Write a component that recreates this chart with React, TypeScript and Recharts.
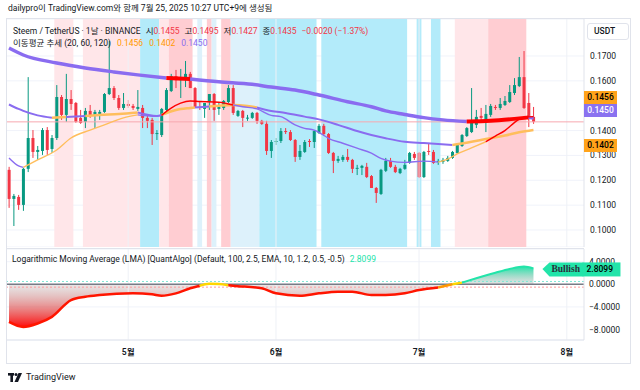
import React from 'react';
import {
  ComposedChart, Bar, Line, Area, XAxis, YAxis, CartesianGrid,
  ReferenceArea, ReferenceLine, ReferenceDot,
} from 'recharts';

const FONT = 'Roboto, "Noto Sans CJK KR", "Noto Sans", sans-serif';
const INK = '#131722';
const UP = '#089981';
const DOWN = '#f23645';
const ORANGE = '#ff9800';
const PURPLE = '#8a6cf0';
const BULL = '#22e4a9';

// STEEM/USDT daily candles, index 0 = Apr 6 2025 ... index 110 = Jul 25 2025
const open = [
  0.1242, 0.1125, 0.1133, 0.1101, 0.1246, 0.1370, 0.1314, 0.1318, 0.1402, 0.1326,
  0.1370, 0.1535, 0.1463, 0.1527, 0.1511, 0.1451, 0.1435, 0.1479, 0.1459, 0.1467,
  0.1475, 0.1547, 0.1571, 0.1531, 0.1491, 0.1507, 0.1499, 0.1487, 0.1491, 0.1451,
  0.1443, 0.1386, 0.1382, 0.1483, 0.1559, 0.1619, 0.1603, 0.1607, 0.1628, 0.1571,
  0.1495, 0.1487, 0.1515, 0.1547, 0.1487, 0.1491, 0.1515, 0.1571, 0.1459, 0.1479,
  0.1451, 0.1451, 0.1471, 0.1439, 0.1427, 0.1318, 0.1354, 0.1358, 0.1398, 0.1394,
  0.1362, 0.1294, 0.1314, 0.1358, 0.1354, 0.1390, 0.1419, 0.1386, 0.1310, 0.1278,
  0.1282, 0.1294, 0.1282, 0.1246, 0.1250, 0.1254, 0.1217, 0.1169, 0.1145, 0.1238,
  0.1278, 0.1254, 0.1229, 0.1246, 0.1270, 0.1306, 0.1310, 0.1213, 0.1318, 0.1314,
  0.1274, 0.1274, 0.1278, 0.1290, 0.1310, 0.1338, 0.1378, 0.1394, 0.1423, 0.1459,
  0.1435, 0.1463, 0.1495, 0.1491, 0.1503, 0.1515, 0.1551, 0.1579, 0.1615, 0.1511,
  0.1455,
];
const high = [
  0.1254, 0.1145, 0.1141, 0.1250, 0.1615, 0.1402, 0.1338, 0.1410, 0.1414, 0.1382,
  0.1583, 0.1543, 0.1628, 0.1563, 0.1515, 0.1483, 0.1491, 0.1503, 0.1483, 0.1483,
  0.1551, 0.1760, 0.1579, 0.1543, 0.1551, 0.1523, 0.1507, 0.1563, 0.1503, 0.1463,
  0.1451, 0.1402, 0.1491, 0.1571, 0.1628, 0.1644, 0.1648, 0.1680, 0.1636, 0.1575,
  0.1515, 0.1511, 0.1547, 0.1551, 0.1511, 0.1523, 0.1583, 0.1583, 0.1483, 0.1483,
  0.1463, 0.1475, 0.1475, 0.1443, 0.1439, 0.1362, 0.1370, 0.1410, 0.1410, 0.1402,
  0.1366, 0.1342, 0.1362, 0.1366, 0.1402, 0.1427, 0.1427, 0.1390, 0.1314, 0.1298,
  0.1302, 0.1326, 0.1286, 0.1262, 0.1262, 0.1270, 0.1221, 0.1173, 0.1246, 0.1290,
  0.1290, 0.1262, 0.1250, 0.1282, 0.1314, 0.1314, 0.1314, 0.1318, 0.1350, 0.1322,
  0.1286, 0.1290, 0.1298, 0.1318, 0.1346, 0.1386, 0.1414, 0.1571, 0.1483, 0.1491,
  0.1503, 0.1507, 0.1503, 0.1531, 0.1539, 0.1583, 0.1611, 0.1696, 0.1720, 0.1551,
  0.1495,
];
const low = [
  0.1089, 0.1016, 0.1081, 0.1077, 0.1233, 0.1290, 0.1282, 0.1302, 0.1302, 0.1310,
  0.1362, 0.1443, 0.1435, 0.1483, 0.1431, 0.1427, 0.1410, 0.1451, 0.1410, 0.1443,
  0.1471, 0.1543, 0.1523, 0.1483, 0.1483, 0.1491, 0.1483, 0.1479, 0.1410, 0.1410,
  0.1342, 0.1362, 0.1374, 0.1479, 0.1555, 0.1571, 0.1531, 0.1575, 0.1571, 0.1491,
  0.1483, 0.1451, 0.1483, 0.1439, 0.1463, 0.1483, 0.1511, 0.1463, 0.1455, 0.1414,
  0.1439, 0.1447, 0.1427, 0.1423, 0.1302, 0.1290, 0.1342, 0.1350, 0.1386, 0.1358,
  0.1274, 0.1282, 0.1310, 0.1334, 0.1330, 0.1386, 0.1378, 0.1306, 0.1229, 0.1270,
  0.1274, 0.1274, 0.1229, 0.1221, 0.1221, 0.1209, 0.1169, 0.1109, 0.1141, 0.1233,
  0.1250, 0.1229, 0.1225, 0.1242, 0.1266, 0.1282, 0.1209, 0.1209, 0.1302, 0.1266,
  0.1262, 0.1266, 0.1274, 0.1286, 0.1306, 0.1334, 0.1374, 0.1390, 0.1410, 0.1431,
  0.1394, 0.1455, 0.1483, 0.1483, 0.1499, 0.1511, 0.1543, 0.1575, 0.1487, 0.1414,
  0.1427,
];
const close = [
  0.1125, 0.1137, 0.1101, 0.1246, 0.1370, 0.1314, 0.1322, 0.1402, 0.1322, 0.1370,
  0.1535, 0.1463, 0.1527, 0.1507, 0.1435, 0.1431, 0.1479, 0.1459, 0.1475, 0.1475,
  0.1547, 0.1571, 0.1531, 0.1491, 0.1507, 0.1499, 0.1491, 0.1495, 0.1451, 0.1439,
  0.1386, 0.1390, 0.1487, 0.1563, 0.1619, 0.1603, 0.1615, 0.1628, 0.1571, 0.1495,
  0.1491, 0.1511, 0.1547, 0.1483, 0.1495, 0.1519, 0.1571, 0.1471, 0.1479, 0.1451,
  0.1452, 0.1471, 0.1439, 0.1427, 0.1318, 0.1354, 0.1358, 0.1398, 0.1394, 0.1362,
  0.1294, 0.1318, 0.1354, 0.1354, 0.1398, 0.1419, 0.1386, 0.1310, 0.1278, 0.1286,
  0.1294, 0.1282, 0.1246, 0.1250, 0.1258, 0.1213, 0.1169, 0.1149, 0.1242, 0.1278,
  0.1254, 0.1233, 0.1246, 0.1262, 0.1310, 0.1290, 0.1213, 0.1314, 0.1314, 0.1270,
  0.1278, 0.1282, 0.1290, 0.1314, 0.1342, 0.1382, 0.1410, 0.1435, 0.1455, 0.1451,
  0.1467, 0.1499, 0.1491, 0.1507, 0.1519, 0.1555, 0.1583, 0.1615, 0.1491, 0.1455,
  0.1435,
];

// moving averages (20, 60, 120), read at sampled candle indices
const ma20Idx = [0, 2, 3, 6, 10, 13, 17, 20, 24, 27, 31, 32, 34, 36, 38, 40, 44, 47, 49, 52, 55, 57, 60, 62, 64, 65, 67, 70, 73, 76, 78, 80, 83, 87, 90, 92, 94, 97, 100, 102, 104, 106, 107, 108, 110];
const ma20Val = [0.1290, 0.1258, 0.1252, 0.1282, 0.1322, 0.1370, 0.1402, 0.1423, 0.1451, 0.1463, 0.1457, 0.1461, 0.1490, 0.1510, 0.1519, 0.1517, 0.1514, 0.1503, 0.1496, 0.1487, 0.1461, 0.1456, 0.1423, 0.1409, 0.1402, 0.1393, 0.1369, 0.1349, 0.1329, 0.1309, 0.1288, 0.1277, 0.1272, 0.1277, 0.1273, 0.1285, 0.1306, 0.1330, 0.1355, 0.1378, 0.1400, 0.1432, 0.1446, 0.1453, 0.1456];
const ma60Idx = [0, 2, 3, 6, 9, 12, 16, 19, 23, 27, 31, 32, 35, 38, 39, 42, 44, 47, 50, 52, 55, 58, 62, 65, 69, 73, 76, 79, 83, 87, 93, 97, 100, 104, 107, 110];
const ma60Val = [0.1505, 0.1487, 0.1479, 0.1461, 0.1452, 0.1455, 0.1459, 0.1463, 0.1467, 0.1473, 0.1459, 0.1463, 0.1483, 0.1491, 0.1493, 0.1497, 0.1500, 0.1503, 0.1499, 0.1493, 0.1479, 0.1471, 0.1456, 0.1445, 0.1423, 0.1398, 0.1382, 0.1369, 0.1355, 0.1350, 0.1342, 0.1355, 0.1366, 0.1380, 0.1393, 0.1402];
const ma120Idx = [0, 3, 10, 16, 22, 27, 33, 38, 44, 51, 55, 60, 65, 71, 76, 79, 83, 87, 91, 96, 101, 106, 109, 110];
const ma120Val = [0.1732, 0.1704, 0.1672, 0.1652, 0.1636, 0.1624, 0.1611, 0.1607, 0.1596, 0.1586, 0.1575, 0.1563, 0.1543, 0.1516, 0.1496, 0.1479, 0.1465, 0.1452, 0.1443, 0.1436, 0.1439, 0.1447, 0.1453, 0.1450];

// trend-state runs of each average (candle index ranges)
const ma20RunFrom = [0, 3, 27, 32, 47, 90, 100];
const ma20RunTo = [3, 27, 32, 47, 90, 100, 110];
const ma20RunState = ['cool', 'warm', 'cool', 'hot', 'cool', 'warm', 'hot'];
const ma60RunFrom = [0, 9, 12, 16, 27, 32, 39, 42, 52, 93];
const ma60RunTo = [9, 12, 16, 27, 32, 39, 42, 52, 93, 110];
const ma60RunState = ['cool', 'warm', 'cool', 'warm', 'cool', 'warm', 'cool', 'warm', 'cool', 'warm'];
const ma120RunFrom = [0, 33, 38, 96, 109];
const ma120RunTo = [33, 38, 96, 109, 110];
const ma120RunState = ['cool', 'hot', 'cool', 'hot', 'cool'];

// background regime bands (candle index ranges)
const bandFrom = [0, 10, 16, 28, 32, 34, 40, 42, 43, 45, 47, 53, 66, 86, 89, 94, 101];
const bandTo = [3, 13, 27, 31, 33, 38, 40, 42, 43, 46, 52, 64, 83, 86, 90, 100, 108];
const bandState = ['cold', 'warm', 'warm', 'cold', 'warm', 'hot', 'cool', 'hot', 'cool', 'hot', 'cool', 'cold', 'cold', 'cold', 'cold', 'warm', 'hot'];

// Logarithmic Moving Average oscillator
const lmaIdx = [0, 3, 6, 9, 13, 16, 19, 26, 30, 32, 35, 38, 40, 42, 44, 46, 47, 53, 56, 61, 65, 69, 72, 76, 79, 83, 86, 90, 93, 95, 98, 102, 105, 108, 110];
const lmaVal = [-6.65, -7.54, -6.93, -5.76, -2.79, -2.2, -1.9, -1.6, -1.78, -2.03, -1.6, -0.71, -0.25, 0.1, 0.05, -0.15, -0.25, -0.71, -1.6, -2.03, -1.6, -1.32, -1.32, -1.9, -1.9, -1.6, -1.01, -0.55, 0, 0.3, 1.07, 2.05, 2.72, 3.13, 2.8099];
const lmaRunFrom = [0, 40, 46, 90, 93, 95];
const lmaRunTo = [40, 46, 90, 93, 95, 110];
const lmaRunState = ['bear', 'flat', 'bear', 'fade', 'flat', 'bull'];

const monthTicks = [25, 56, 86, 117];
const monthLabels = ['5월', '6월', '7월', '8월'];
// 0.1500 sits under the moving-average tags, so it is left out of the scale
const priceTicks = [0.1, 0.11, 0.12, 0.13, 0.14, 0.16, 0.17];
const lmaTicks = [-8, -4, 0, 4];

const trendColor: Record<string, string> = { cool: PURPLE, warm: '#ffbe5c', hot: '#ff0000' };
const bandColor: Record<string, string> = { cold: '#b3ebfa', cool: '#ddf1fb', warm: '#ffe6e9', hot: '#ffcdd2' };
const lmaColor: Record<string, string> = { bear: '#ff1500', flat: '#ffd600', fade: '#ff9800', bull: BULL };

const X_DOMAIN = [-0.42, 120.6];

const priceRows: any[] = open.map((o, i) => ({ i, o, h: high[i], l: low[i], c: close[i], range: [low[i], high[i]] }));
const lmaRows: any[] = open.map((_, i) => ({ i }));

const addRuns = (rows: any[], key: string, idx: number[], val: number[], from: number[], to: number[]) => {
  from.forEach((f, k) => {
    idx.forEach((d, j) => {
      if (d >= f && d <= to[k]) rows[d][key + k] = val[j];
    });
  });
};
addRuns(priceRows, 'ma20_', ma20Idx, ma20Val, ma20RunFrom, ma20RunTo);
addRuns(priceRows, 'ma60_', ma60Idx, ma60Val, ma60RunFrom, ma60RunTo);
addRuns(priceRows, 'ma120_', ma120Idx, ma120Val, ma120RunFrom, ma120RunTo);
addRuns(lmaRows, 'lma_', lmaIdx, lmaVal, lmaRunFrom, lmaRunTo);
addRuns(lmaRows, 'area_', lmaIdx, lmaVal, [0, 93], [93, 110]);

const last = open.length - 1;
const lastLma = lmaVal[lmaVal.length - 1];
const change = close[last] - close[last - 1];
const changePct = (change / close[last - 1]) * 100;
const fmt = (v: number) => (v < 0 ? '−' : '') + Math.abs(v).toFixed(4);

const Candle = (props: any) => {
  const { x, y, width, height, payload } = props;
  if (!payload || payload.o == null) return null;
  const top = Math.min(y, y + height);
  const bottom = Math.max(y, y + height);
  const span = payload.h - payload.l;
  const k = span > 0 ? (bottom - top) / span : 0;
  const yOpen = top + (payload.h - payload.o) * k;
  const yClose = top + (payload.h - payload.c) * k;
  const color = payload.c >= payload.o ? UP : DOWN;
  const cx = x + width / 2;
  return (
    <g>
      <line x1={cx} x2={cx} y1={top} y2={bottom} stroke={color} strokeWidth={1} />
      <rect x={x} y={Math.min(yOpen, yClose)} width={width} height={Math.max(1, Math.abs(yOpen - yClose))} fill={color} />
    </g>
  );
};

const BullishTag = (props: any) => {
  const { cx, cy } = props;
  return (
    <g>
      <path d={`M${cx + 9},${cy + 0.5} L${cx + 16},${cy - 6} H${cx + 50} V${cy + 8} H${cx + 16} Z`} fill={BULL} />
      <text x={cx + 18} y={cy + 4} fontFamily="'Liberation Serif', serif" fontWeight="bold" fontSize={9.5} fill="#2a2e39">Bullish</text>
      <rect x={cx + 49} y={cy - 6} width={38} height={14} fill={BULL} />
      <text x={cx + 53} y={cy + 4} fontFamily={FONT} fontSize={8.5} fontWeight={500} fill="#000">{lastLma.toFixed(4)}</text>
    </g>
  );
};

const tickStyle = { fontSize: 8.5, fill: INK, fontFamily: FONT };

const AxisTag = ({ top, bg, color, text }: { top: number; bg: string; color: string; text: string }) => (
  <div style={{ position: 'absolute', left: 584, top, width: 33, height: 13, background: bg, color, fontSize: 8.5, lineHeight: '13px', textAlign: 'center', fontWeight: 500 }}>{text}</div>
);

export default function App() {
  return (
    <div style={{ position: 'fixed', left: 0, top: 0, width: 640, height: 390, background: '#fff', overflow: 'hidden', fontFamily: FONT, color: INK }}>
      <div style={{ position: 'absolute', left: 8, top: 2, fontSize: 8.5, lineHeight: '12px' }}>
        dailypro이 TradingView.com와 함께 7월 25, 2025 10:27 UTC+9에 생성됨
      </div>
      <div style={{ position: 'absolute', left: 6, top: 18, width: 625, height: 346, border: '1px solid #e0e3eb', boxSizing: 'border-box' }} />

      <ComposedChart width={624} height={228} data={priceRows} margin={{ top: 0, right: 0, bottom: 0, left: 0 }}
        style={{ position: 'absolute', left: 7, top: 19 }}>
        <XAxis dataKey="i" type="number" domain={X_DOMAIN} allowDataOverflow hide />
        <YAxis orientation="right" width={47} domain={[0.09316, 0.18488]} allowDataOverflow ticks={priceTicks}
          tickFormatter={(v: number) => v.toFixed(4)} tick={tickStyle} tickLine={false} tickSize={0} tickMargin={6}
          axisLine={{ stroke: '#e0e3eb' }} />
        <CartesianGrid vertical={false} stroke="#f0f3fa" />
        {bandFrom.map((f, k) => (
          <ReferenceArea key={'b' + k} x1={f - 0.5} x2={bandTo[k] + 0.5} fill={bandColor[bandState[k]]} fillOpacity={1} stroke="none" />
        ))}
        {monthTicks.map((m) => (
          <ReferenceLine key={'m' + m} x={m} stroke="#eef1f6" />
        ))}
        <ReferenceLine y={close[last]} stroke="#f7a8b0" strokeWidth={1} />
        <Bar dataKey="range" barSize={3} isAnimationActive={false} shape={(p: any) => <Candle {...p} />} />
        {ma120RunFrom.map((_, k) => (
          <Line key={'a' + k} dataKey={'ma120_' + k} type="monotone" stroke={trendColor[ma120RunState[k]]}
            strokeWidth={ma120RunState[k] === 'hot' ? 4 : 3.5} dot={false} activeDot={false} connectNulls isAnimationActive={false} />
        ))}
        {ma60RunFrom.map((_, k) => (
          <Line key={'b' + k} dataKey={'ma60_' + k} type="monotone" stroke={trendColor[ma60RunState[k]]}
            strokeWidth={ma60RunState[k] === 'warm' ? 2.5 : 2} dot={false} activeDot={false} connectNulls isAnimationActive={false} />
        ))}
        {ma20RunFrom.map((_, k) => (
          <Line key={'c' + k} dataKey={'ma20_' + k} type="monotone" stroke={trendColor[ma20RunState[k]]}
            strokeWidth={1.4} dot={false} activeDot={false} connectNulls isAnimationActive={false} />
        ))}
      </ComposedChart>

      <div style={{ position: 'absolute', left: 7, top: 247.5, width: 577, height: 1, background: '#e0e3eb' }} />

      <ComposedChart width={624} height={115} data={lmaRows} margin={{ top: 0, right: 0, bottom: 0, left: 0 }}
        style={{ position: 'absolute', left: 7, top: 249 }}>
        <defs>
          <linearGradient id="lmaNegFill" x1="0" y1="0" x2="0" y2="1">
            <stop offset="0%" stopColor="#b4b4b4" stopOpacity={0.3} />
            <stop offset="100%" stopColor="#ff0000" stopOpacity={0.95} />
          </linearGradient>
          <linearGradient id="lmaPosFill" x1="0" y1="0" x2="0" y2="1">
            <stop offset="0%" stopColor={BULL} stopOpacity={1} />
            <stop offset="100%" stopColor="#b4b4b4" stopOpacity={0.35} />
          </linearGradient>
        </defs>
        <XAxis dataKey="i" type="number" domain={X_DOMAIN} allowDataOverflow ticks={monthTicks} interval={0}
          tickFormatter={(v: number) => monthLabels[monthTicks.indexOf(v)]} height={24}
          tick={{ ...tickStyle, fontWeight: 600 }} tickLine={false} tickSize={0} tickMargin={9} axisLine={{ stroke: '#e0e3eb' }} />
        <YAxis orientation="right" width={47} domain={[-9.86, 6.25]} allowDataOverflow ticks={lmaTicks}
          tickFormatter={fmt} tick={tickStyle} tickLine={false} tickSize={0} tickMargin={5} axisLine={{ stroke: '#e0e3eb' }} />
        <CartesianGrid vertical={false} stroke="#f0f3fa" />
        {monthTicks.map((m) => (
          <ReferenceLine key={'m' + m} x={m} stroke="#eef1f6" />
        ))}
        <Area dataKey="area_0" type="monotone" baseValue={0} stroke="none" fill="url(#lmaNegFill)" fillOpacity={1} connectNulls isAnimationActive={false} />
        <Area dataKey="area_1" type="monotone" baseValue={0} stroke="none" fill="url(#lmaPosFill)" fillOpacity={1} connectNulls isAnimationActive={false} />
        <ReferenceLine y={0.5} stroke="#7fe8d6" strokeDasharray="2 2" />
        <ReferenceLine y={-0.5} stroke="#ff9a9a" strokeDasharray="2 2" />
        <ReferenceLine y={0} stroke="#787b86" strokeWidth={1.5} />
        {lmaRunFrom.map((_, k) => (
          <Line key={'l' + k} dataKey={'lma_' + k} type="monotone" stroke={lmaColor[lmaRunState[k]]}
            strokeWidth={lmaRunState[k] === 'bull' ? 2 : 2.5} dot={false} activeDot={false} connectNulls isAnimationActive={false} />
        ))}
        <ReferenceDot x={last} y={lastLma} r={0} shape={(p: any) => <BullishTag {...p} />} zIndex={2000} />
      </ComposedChart>

      {/* legends */}
      <div style={{ position: 'absolute', left: 13, top: 24.5, fontSize: 8.5, lineHeight: '12px', whiteSpace: 'nowrap' }}>
        <span>Steem / TetherUS · 1날 · BINANCE</span>
        <span style={{ marginLeft: 5 }}>시</span><span style={{ color: DOWN }}>{open[last].toFixed(4)}</span>
        <span style={{ marginLeft: 5 }}>고</span><span style={{ color: DOWN }}>{high[last].toFixed(4)}</span>
        <span style={{ marginLeft: 5 }}>저</span><span style={{ color: DOWN }}>{low[last].toFixed(4)}</span>
        <span style={{ marginLeft: 5 }}>종</span><span style={{ color: DOWN }}>{close[last].toFixed(4)}</span>
        <span style={{ marginLeft: 5, color: DOWN }}>{fmt(change)} ({changePct < 0 ? '−' : '+'}{Math.abs(changePct).toFixed(2)}%)</span>
      </div>
      <div style={{ position: 'absolute', left: 13, top: 37, fontSize: 8.5, lineHeight: '12px', whiteSpace: 'nowrap' }}>
        <span>이동평균 추세 (20, 60, 120)</span>
        <span style={{ marginLeft: 6, color: ORANGE }}>{ma20Val[ma20Val.length - 1].toFixed(4)}</span>
        <span style={{ marginLeft: 6, color: ORANGE }}>{ma60Val[ma60Val.length - 1].toFixed(4)}</span>
        <span style={{ marginLeft: 6, color: PURPLE }}>{ma120Val[ma120Val.length - 1].toFixed(4)}</span>
      </div>
      <div style={{ position: 'absolute', left: 12, top: 253, fontSize: 8.5, lineHeight: '12px', whiteSpace: 'nowrap' }}>
        <span>Logarithmic Moving Average (LMA) [QuantAlgo] (Default, 100, 2.5, EMA, 10, 1.2, 0.5, -0.5)</span>
        <span style={{ marginLeft: 5, color: BULL }}>{lastLma.toFixed(4)}</span>
      </div>

      {/* price scale tags */}
      <div style={{ position: 'absolute', left: 587, top: 23, width: 42, height: 17, border: '1px solid #e0e3eb', borderRadius: 3, boxSizing: 'border-box', background: '#fff', fontSize: 8.5, lineHeight: '15px', paddingLeft: 6, fontWeight: 500 }}>USDT</div>
      <AxisTag top={91} bg="#ffa31a" color="#000" text={ma20Val[ma20Val.length - 1].toFixed(4)} />
      <AxisTag top={104} bg="#8a72f0" color="#fff" text={ma120Val[ma120Val.length - 1].toFixed(4)} />
      <AxisTag top={138.5} bg="#ffa31a" color="#000" text={ma60Val[ma60Val.length - 1].toFixed(4)} />

      {/* footer */}
      <div style={{ position: 'absolute', left: 8, top: 372, display: 'flex', alignItems: 'center', gap: 3 }}>
        <svg width="15" height="9" viewBox="0 0 15 9">
          <rect x="0" y="0" width="6" height="2.6" fill={INK} />
          <rect x="2.4" y="0" width="2.6" height="9" fill={INK} />
          <circle cx="8" cy="1.5" r="1.5" fill={INK} />
          <polygon points="10.5,0 14,0 10,9 6.5,9" fill={INK} />
        </svg>
        <span style={{ fontSize: 9, lineHeight: '10px' }}>TradingView</span>
      </div>
    </div>
  );
}
